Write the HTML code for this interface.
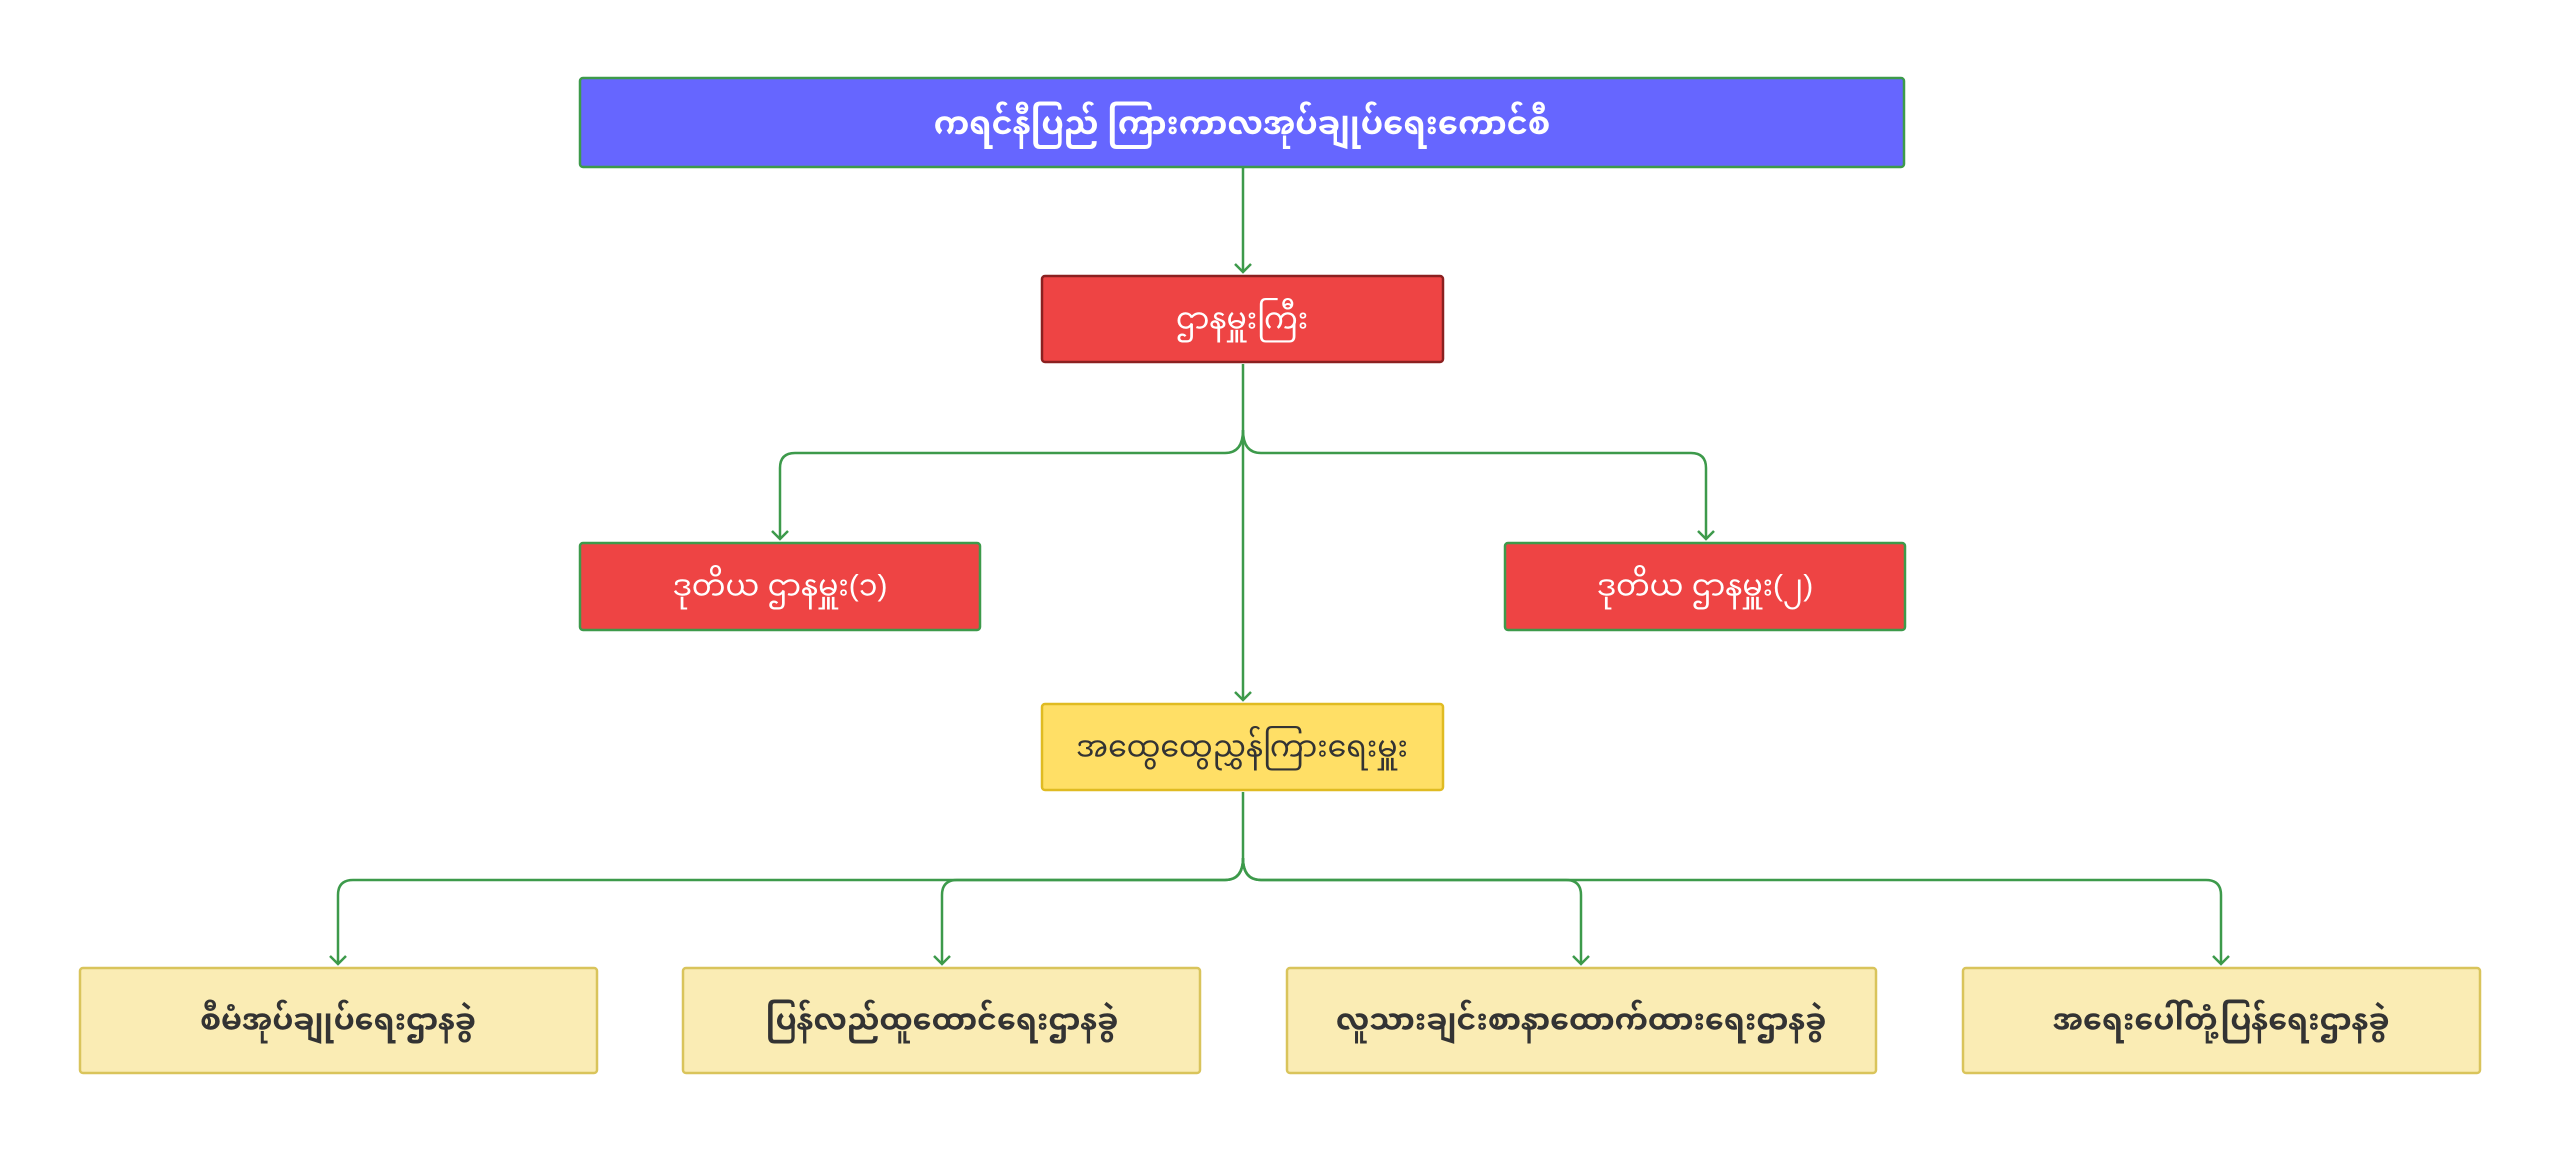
<!DOCTYPE html>
<html><head><meta charset="utf-8"><style>
html,body{margin:0;padding:0;background:#fff;width:2560px;height:1155px;overflow:hidden}
svg text{font-family:"Liberation Sans","Noto Sans Myanmar","Padauk",sans-serif;text-anchor:middle;dominant-baseline:central}
</style></head><body>
<svg width="2560" height="1155" viewBox="0 0 2560 1155" xmlns="http://www.w3.org/2000/svg">
<defs><marker id="a" markerWidth="20" markerHeight="20" refX="15" refY="10" orient="auto" markerUnits="userSpaceOnUse" viewBox="0 0 20 20"><path d="M7 2 L15 10 L7 18" fill="none" stroke="#3d9a4b" stroke-width="2.5"/></marker></defs>
<g fill="none" stroke="#3d9a4b" stroke-width="2.5">
<path d="M1243 168 V272" marker-end="url(#a)"/>
<path d="M1243 364 V700" marker-end="url(#a)"/>
<path d="M1243 430 Q1243 453 1225 453 H795 Q780 453 780 468 V539" marker-end="url(#a)"/>
<path d="M1243 430 Q1243 453 1261 453 H1691 Q1706 453 1706 468 V539" marker-end="url(#a)"/>
<path d="M1243 792 V858 Q1243 880 1225 880 H353 Q338 880 338 895 V964" marker-end="url(#a)"/>
<path d="M1243 858 Q1243 880 1225 880 H957 Q942 880 942 895 V964" marker-end="url(#a)"/>
<path d="M1243 858 Q1243 880 1261 880 H1566 Q1581 880 1581 895 V964" marker-end="url(#a)"/>
<path d="M1243 858 Q1243 880 1261 880 H2206 Q2221 880 2221 895 V964" marker-end="url(#a)"/>
</g>
<rect x="580" y="78" width="1324" height="89" rx="3" fill="#6666ff" stroke="#3d9a4b" stroke-width="2.5"/>
<text x="1242" y="123" fill="#fff" font-size="32" font-weight="bold">ကရင်နီပြည် ကြားကာလအုပ်ချုပ်ရေးကောင်စီ</text>
<rect x="1042" y="276" width="401" height="86" rx="3" fill="#ee4444" stroke="#8b2020" stroke-width="2.5"/>
<text x="1242" y="319" fill="#fff" font-size="30">ဌာနမှူးကြီး</text>
<rect x="580" y="543" width="400" height="87" rx="3" fill="#ee4444" stroke="#3d9a4b" stroke-width="2.5"/>
<text x="780" y="586" fill="#fff" font-size="30">ဒုတိယ ဌာနမှူး(၁)</text>
<rect x="1505" y="543" width="400" height="87" rx="3" fill="#ee4444" stroke="#3d9a4b" stroke-width="2.5"/>
<text x="1705" y="586" fill="#fff" font-size="30">ဒုတိယ ဌာနမှူး(၂)</text>
<rect x="1042" y="704" width="401" height="86" rx="3" fill="#ffdf66" stroke="#e0bb22" stroke-width="2.5"/>
<text x="1242" y="747" fill="#333" font-size="30">အထွေထွေညွှန်ကြားရေးမှူး</text>
<g fill="#faecb4" stroke="#d9c45b" stroke-width="2.5">
<rect x="80" y="968" width="517" height="105" rx="3"/>
<rect x="683" y="968" width="517" height="105" rx="3"/>
<rect x="1287" y="968" width="589" height="105" rx="3"/>
<rect x="1963" y="968" width="517" height="105" rx="3"/>
</g>
<g fill="#333" font-size="30" font-weight="bold">
<text x="338" y="1020">စီမံအုပ်ချုပ်ရေးဌာနခွဲ</text>
<text x="942" y="1020">ပြန်လည်ထူထောင်ရေးဌာနခွဲ</text>
<text x="1581" y="1020">လူသားချင်းစာနာထောက်ထားရေးဌာနခွဲ</text>
<text x="2221" y="1020">အရေးပေါ်တုံ့ပြန်ရေးဌာနခွဲ</text>
</g>
</svg>
</body></html>
